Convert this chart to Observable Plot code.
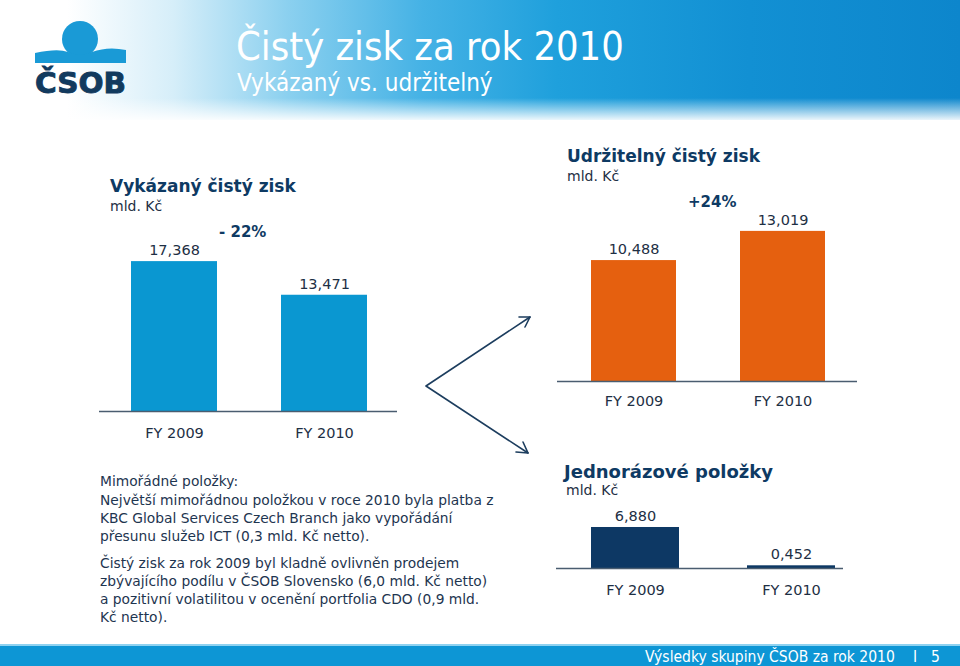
<!DOCTYPE html>
<html>
<head>
<meta charset="utf-8">
<script src="https://cdn.jsdelivr.net/npm/d3@7"></script>
<script src="https://cdn.jsdelivr.net/npm/@observablehq/plot@0.6"></script>
<style>
  html, body { margin: 0; padding: 0; background: #ffffff; }
  body { width: 960px; height: 666px; position: relative; overflow: hidden; font-family: "DejaVu Sans", Verdana, sans-serif; }
  .abs { position: absolute; white-space: nowrap; }
  #header { left: 0; top: 0; width: 960px; height: 120px;
    background: linear-gradient(90deg, #ffffff 0%, #ffffff 7%, #d6eef9 18%, #8bd0ef 30%, #45b2e5 44%, #1fa0dc 58%, #1290d3 78%, #0d86cc 100%); }
  #headerFade { left: 0; top: 98px; width: 960px; height: 24px;
    background: linear-gradient(180deg, rgba(255,255,255,0) 0%, rgba(255,255,255,1) 100%); }
  .htitle { font-family: "DejaVu Sans Condensed", "DejaVu Sans", sans-serif; color: #ffffff; }
  .ctitle { font-weight: bold; color: #0e3a63; font-size: 17px; }
  .unit { color: #1e2f44; font-size: 14px; }
  .chg { font-weight: bold; color: #0e3a63; font-size: 15px; }
  .body { color: #1e3550; font-size: 13.8px; line-height: 18px; }
  #footer { left: 0; top: 644px; width: 960px; height: 22px; background: #0d96d5; border-top: 2px solid #8fd2f0; }
  .ftext { font-family: "DejaVu Sans Condensed", "DejaVu Sans", sans-serif; color: #ffffff; font-size: 15.5px; }
</style>
</head>
<body>
<div id="header" class="abs"></div>
<div id="headerFade" class="abs"></div>

<svg class="abs" style="left:0;top:0" width="140" height="110">
  <circle cx="80" cy="39" r="18" fill="#1a9ad6"/>
  <path d="M35,63 L35,53 Q58,48 68,52 Q80,57 92,52 Q108,46 126,50 L126,63 Z" fill="#1a9ad6"/>
  <text x="35" y="93" textLength="91" lengthAdjust="spacingAndGlyphs" font-family="DejaVu Sans" font-weight="bold" font-size="28" fill="#123a5e" stroke="#123a5e" stroke-width="0.9">ČSOB</text>
</svg>

<div class="abs htitle" style="left:236px;top:23px;font-size:39.5px;line-height:46px;">Čistý zisk za rok 2010</div>
<div class="abs htitle" style="left:237px;top:69px;font-size:24px;line-height:29px;">Vykázaný vs. udržitelný</div>

<!-- left chart titles -->
<div class="abs ctitle" style="left:110px;top:176px;">Vykázaný čistý zisk</div>
<div class="abs unit" style="left:110px;top:198px;">mld. Kč</div>
<div class="abs chg" id="chg1" style="left:219px;top:223px;"></div>

<!-- right chart titles -->
<div class="abs ctitle" style="left:567px;top:146px;">Udržitelný čistý zisk</div>
<div class="abs unit" style="left:567px;top:168px;">mld. Kč</div>
<div class="abs chg" id="chg2" style="left:688px;top:193px;"></div>

<!-- one-off chart titles -->
<div class="abs ctitle" style="left:564px;top:461px;font-size:18px;">Jednorázové položky</div>
<div class="abs unit" style="left:566px;top:482px;">mld. Kč</div>

<!-- body text -->
<div class="abs body" style="left:100px;top:472px;">Mimořádné položky:</div>
<div class="abs body" style="left:100px;top:491px;">Největší mimořádnou položkou v roce 2010 byla platba z<br>KBC Global Services Czech Branch jako vypořádání<br>přesunu služeb ICT (0,3 mld. Kč netto).</div>
<div class="abs body" style="left:100px;top:554px;">Čistý zisk za rok 2009 byl kladně ovlivněn prodejem<br>zbývajícího podílu v ČSOB Slovensko (6,0 mld. Kč netto)<br>a pozitivní volatilitou v ocenění portfolia CDO (0,9 mld.<br>Kč netto).</div>

<!-- arrows -->
<svg class="abs" style="left:0;top:0" width="960" height="666" pointer-events="none">
  <g fill="none" stroke="#1c3d5e" stroke-width="1.6" stroke-linecap="round" stroke-linejoin="round">
    <path d="M530,317 L426,386 L528,453"/>
    <path d="M519,317 L530,317 L525,327"/>
    <path d="M516,452 L528,453 L523,442"/>
  </g>
</svg>

<div id="footer" class="abs"></div>
<div class="abs ftext" style="left:645px;top:648px;">Výsledky skupiny ČSOB za rok 2010</div>
<div class="abs ftext" style="left:913px;top:648px;">I</div>
<div class="abs ftext" style="left:931px;top:648px;">5</div>

<div id="c1" class="abs" style="left:99px;top:225px;"></div>
<div id="c2" class="abs" style="left:557px;top:200px;"></div>
<div id="c3" class="abs" style="left:556px;top:490px;"></div>

<script>
// ---- data ----
const years = ["FY 2009", "FY 2010"];
const reported = [17.368, 13.471];      // Vykázaný čistý zisk, mld. Kč
const sustainable = [10.488, 13.019];   // Udržitelný čistý zisk, mld. Kč
const oneOff = [6.880, 0.452];          // Jednorázové položky, mld. Kč
const reportedChange = "- 22%";
const sustainableChange = "+24%";

document.getElementById("chg1").textContent = reportedChange;
document.getElementById("chg2").textContent = sustainableChange;

const fmt = v => v.toFixed(3).replace(".", ",");

function barChart({values, color, yMax, range, paddingInner, width, height, marginBottom, tickPadding}) {
  const data = years.map((y, i) => ({year: y, value: values[i], label: fmt(values[i])}));
  return Plot.plot({
    width, height,
    marginTop: 0, marginLeft: 0, marginRight: 0, marginBottom,
    x: {domain: years, range, paddingInner, paddingOuter: 0, label: null},
    y: {domain: [0, yMax], axis: null},
    style: {fontFamily: "DejaVu Sans, Verdana, sans-serif", fontSize: "14px", color: "#1e2f44", background: "transparent", overflow: "visible"},
    marks: [
      Plot.barY(data, {x: "year", y: "value", fill: color}),
      Plot.ruleY([0], {stroke: "#4a5d70", strokeWidth: 1.5}),
      Plot.axisX({tickSize: 0, tickPadding, fontSize: 14.5, label: null}),
      Plot.text(data, {x: "year", y: "value", text: "label", dy: -11, fontSize: 14.5, fill: "#1e2f44"})
    ]
  });
}

document.getElementById("c1").append(barChart({
  values: reported, color: "#0a97d1", yMax: 186 / 8.63,
  range: [32, 268], paddingInner: 0.427, width: 298, height: 220, marginBottom: 34, tickPadding: 16
}));
document.getElementById("c2").append(barChart({
  values: sustainable, color: "#e5600f", yMax: 181 / 11.53,
  range: [33, 268], paddingInner: 0.43, width: 300, height: 215, marginBottom: 34, tickPadding: 14
}));
document.getElementById("c3").append(barChart({
  values: oneOff, color: "#0d3864", yMax: 78 / 5.96,
  range: [35, 279], paddingInner: 0.436, width: 287, height: 112, marginBottom: 34, tickPadding: 16
}));
</script>
</body>
</html>
